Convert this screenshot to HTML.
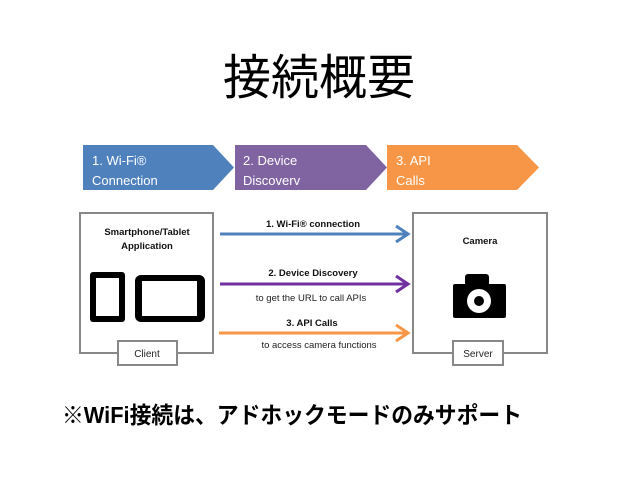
<!DOCTYPE html>
<html><head><meta charset="utf-8"><style>
body{margin:0;width:638px;height:479px;background:#fff;overflow:hidden;font-family:"Liberation Sans","Noto Sans CJK JP",sans-serif}
</style></head><body>
<svg width="638" height="479" viewBox="0 0 638 479" xmlns="http://www.w3.org/2000/svg" font-family="Liberation Sans, Noto Sans CJK JP, sans-serif">
<text x="319" y="94" font-size="48" text-anchor="middle" fill="#000" font-family="Noto Sans CJK JP, sans-serif">接続概要</text>
<polygon points="83,145 213,145 234,167.5 213,190 83,190" fill="#4f81bd"/>
<polygon points="235,145 366,145 387,167.5 366,190 235,190" fill="#8064a2"/>
<polygon points="387,145 517,145 539,167.5 517,190 387,190" fill="#f79646"/>
<g font-size="13" fill="#fff">
<text x="92" y="165">1. Wi-Fi®</text><text x="92" y="185">Connection</text>
<text x="243" y="165">2. Device</text><text x="243" y="185">Discoverv</text>
<text x="396" y="165">3. API</text><text x="396" y="185">Calls</text>
</g>
<rect x="80" y="213" width="133" height="140" fill="#fff" stroke="#888" stroke-width="2"/>
<rect x="118" y="341" width="59" height="24" fill="#fff" stroke="#888" stroke-width="2"/>
<rect x="413" y="213" width="134" height="140" fill="#fff" stroke="#888" stroke-width="2"/>
<rect x="453" y="341" width="50" height="24" fill="#fff" stroke="#888" stroke-width="2"/>
<g font-size="10" fill="#222" text-anchor="middle">
<text x="147" y="357">Client</text><text x="478" y="357">Server</text>
</g>
<g font-size="9.5" font-weight="bold" fill="#111" text-anchor="middle">
<text x="147" y="235">Smartphone/Tablet</text><text x="147" y="249">Application</text>
<text x="480" y="244">Camera</text>
<text x="313" y="227">1. Wi-Fi® connection</text>
<text x="313" y="276">2. Device Discovery</text>
<text x="312" y="326">3. API Calls</text>
</g>
<g font-size="9.5" fill="#222" text-anchor="middle">
<text x="311" y="301">to get the URL to call APIs</text>
<text x="319" y="348">to access camera functions</text>
</g>
<rect x="90" y="272" width="35" height="50" rx="3" fill="#000"/>
<rect x="96" y="278" width="23" height="38" fill="#fff"/>
<rect x="135" y="275" width="70" height="47" rx="6" fill="#000"/>
<rect x="142" y="281" width="55" height="35" fill="#fff"/>
<rect x="453" y="284" width="53" height="34" rx="2" fill="#000"/>
<rect x="465" y="274" width="24" height="12" rx="3" fill="#000"/>
<circle cx="479" cy="301" r="12" fill="#fff"/>
<circle cx="479" cy="301" r="5" fill="#000"/>
<g fill="none" stroke-width="3" stroke-linejoin="miter">
<line x1="220" y1="234" x2="408" y2="234" stroke="#4f81bd"/>
<polyline points="396,226 408,234 396,242" stroke="#4f81bd"/>
<line x1="220" y1="284" x2="408" y2="284" stroke="#7030a0"/>
<polyline points="396,276 408,284 396,292" stroke="#7030a0"/>
<line x1="219" y1="333" x2="408" y2="333" stroke="#f79646"/>
<polyline points="396,325 408,333 396,341" stroke="#f79646"/>
</g>
<text x="62" y="423" font-size="23" font-weight="bold" fill="#000" textLength="460" lengthAdjust="spacingAndGlyphs">※WiFi接続は、アドホックモードのみサポート</text>
</svg>
</body></html>
